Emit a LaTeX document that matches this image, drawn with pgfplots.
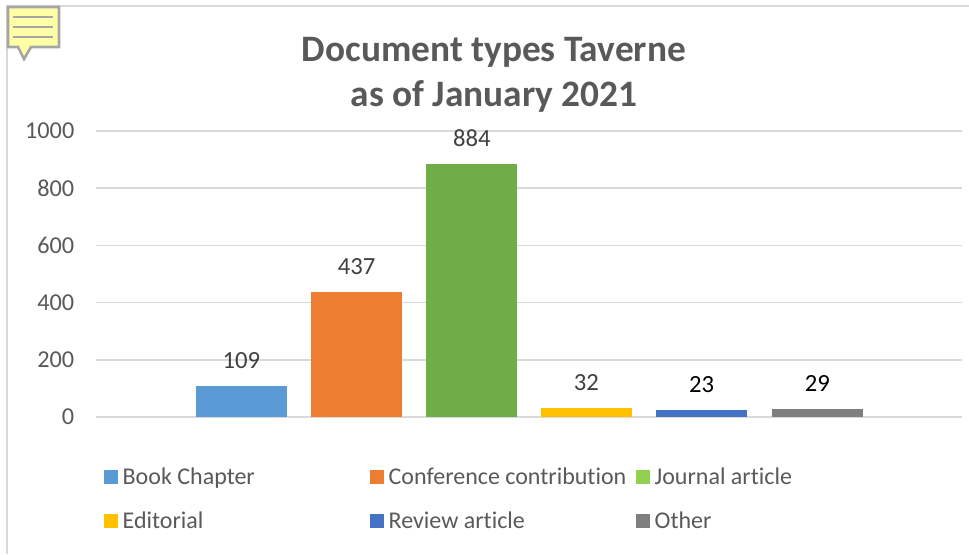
\documentclass[border=0pt]{standalone}
\usepackage{pgfplots}
\pgfplotsset{compat=1.18}
\usepackage{fontspec}
\setmainfont[Ligatures=NoCommon]{Carlito}
\definecolor{txt}{HTML}{595959}
\definecolor{lab}{HTML}{404040}
\definecolor{gridc}{HTML}{D9D9D9}
\definecolor{cA}{HTML}{5B9BD5}
\definecolor{cB}{HTML}{ED7D31}
\definecolor{cC}{HTML}{70AD47}
\definecolor{cCl}{HTML}{92D050}
\definecolor{cD}{HTML}{FFC000}
\definecolor{cE}{HTML}{4472C4}
\definecolor{cF}{HTML}{7F7F7F}
\definecolor{noteF}{HTML}{FFFFA6}
\definecolor{noteL}{HTML}{A6A6A6}
\pgfplotsset{
  swatch/.style={legend image code/.code={
    \fill[#1] (0pt,-5.25pt) rectangle (10.5pt,5.25pt);}},
}
\newcommand{\lc}[1]{\makebox[185pt][l]{\hspace{1.5pt}#1}}
\begin{document}
\begin{tikzpicture}
\path[use as bounding box] (0pt,0pt) rectangle (726.75pt,415.5pt);
\begin{scope}[x=0.75pt,y=-0.75pt,yshift=415.5pt]
\draw[gridc,line width=1.5pt] (7,554) -- (7,6) -- (969,6);
\filldraw[fill=noteF,draw=noteL,line width=2pt] (8,7) -- (59,7) -- (59,47) -- (31,47) -- (24,59) -- (18,47) -- (8,47) -- cycle;
\draw[noteL,line width=2pt] (13,17) -- (53,17) (13,27) -- (53,27) (13,37) -- (53,37);
\node[text=txt,font=\fontsize{28}{34}\selectfont\bfseries,align=center,anchor=center] at (494,74.5) {Document types Taverne\\as of January 2021};
\end{scope}
\begin{axis}[
  at={(72.25pt,102.75pt)},anchor=south west,
  scale only axis,width=649pt,height=214.5pt,
  xmin=-0.26,xmax=7.252,ymin=0,ymax=1000,
  ybar,bar width=68.25pt,bar shift=0pt,
  axis line style={draw=none},
  xtick=\empty,
  ytick={0,200,400,600,800,1000},
  ymajorgrids,grid style={gridc,line width=1.2pt},
  major tick length=0pt,
  ticklabel style={font=\fontsize{18.2}{20}\selectfont,text=txt},
  /pgf/number format/assume math mode=true,
  /pgf/number format/1000 sep={},
  yticklabel style={xshift=-13pt},
  clip=false,
  nodes near coords,
  every node near coord/.append style={font=\fontsize{18.5}{20}\selectfont,text=lab,yshift=9.5pt},
  legend style={at={(5.75pt,-36pt)},anchor=north west,draw=none,fill=none,
    font=\fontsize{18}{20}\selectfont,text=txt,
    row sep=15pt,inner sep=0pt,outer sep=0pt},
  legend cell align=left,
  legend columns=3,
]
\addplot[fill=cA,draw=none,swatch=cA] coordinates {(1,109)};
\addlegendentry{\lc{Book Chapter}}
\addplot[fill=cB,draw=none,swatch=cB] coordinates {(2,437)};
\addlegendentry{\lc{Conference contribution}}
\addplot[fill=cC,draw=none,swatch=cCl] coordinates {(3,884)};
\addlegendentry{\hspace{1.5pt}Journal article}
\addplot[fill=cD,draw=none,swatch=cD] coordinates {(3.995,32)};
\addlegendentry{\lc{Editorial}}
\addplot[fill=cE,draw=none,swatch=cE,every node near coord/.append style={text=black}] coordinates {(4.995,23)};
\addlegendentry{\lc{Review article}}
\addplot[fill=cF,draw=none,swatch=cF,every node near coord/.append style={text=black}] coordinates {(6,29)};
\addlegendentry{\hspace{1.5pt}Other}
\end{axis}
\end{tikzpicture}
\end{document}
